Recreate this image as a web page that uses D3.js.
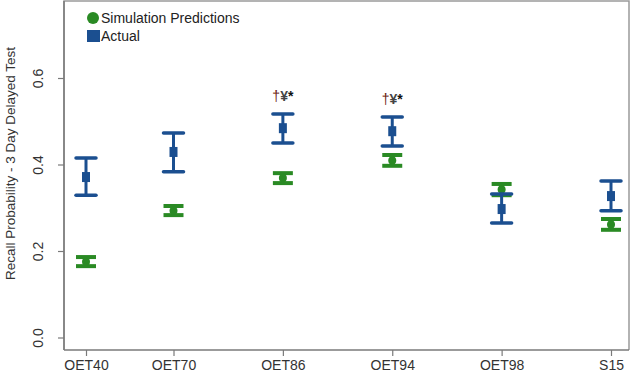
<!DOCTYPE html>
<html>
<head>
<meta charset="utf-8">
<title>recall probability</title>
<style>
  body{margin:0;background:#fff;}
  text{font-family:"Liberation Sans",Arial,sans-serif;}
</style>
</head>
<body>
<div id="container"></div>
<script src="https://cdn.jsdelivr.net/npm/d3@7"></script>
<script>
var categories = ["OET40","OET70","OET86","OET94","OET98","S15"];
var catX = [0, 0.8, 1.8, 2.8, 3.8, 4.8];

var simMean  = [0.175, 0.293, 0.369, 0.409, 0.342, 0.261];
var simLow   = [0.165, 0.283, 0.357, 0.397, 0.329, 0.249];
var simHigh  = [0.186, 0.304, 0.380, 0.422, 0.355, 0.274];

var actMean  = [0.371, 0.429, 0.484, 0.477, 0.297, 0.327];
var actLow   = [0.329, 0.383, 0.450, 0.443, 0.265, 0.293];
var actHigh  = [0.415, 0.473, 0.517, 0.510, 0.332, 0.362];

var marks = ["", "", "†¥*", "†¥*", "", ""];
var yTicks = [0, 0.2, 0.4, 0.6];

var blue = "#1b4f90", green = "#2a8a24", axisCol = "#7a7a7a";

var W = 632, H = 373;
var svg = d3.select("#container").append("svg").attr("width", W).attr("height", H);

var x = d3.scaleLinear().domain([0, 4.8]).range([86, 611]);
var y = d3.scaleLinear().domain([0, 0.6]).range([337.5, 78]);

// frame
var pL = 64, pR = 629, pT = 1, pB = 350;
svg.append("path")
  .attr("d", "M"+pL+","+pB+"V"+pT+"H"+pR+"V"+pB)
  .attr("fill","none").attr("stroke","#9a9a9a").attr("stroke-width",1.5);

// axes
var yAxis = d3.axisLeft(y).tickValues(yTicks).tickFormat(d3.format(".1f")).tickSize(6);
var gy = svg.append("g").attr("transform","translate("+pL+",0)").call(yAxis);
gy.select(".domain").attr("d","M0,"+pT+"V"+pB).attr("stroke",axisCol).attr("stroke-width",1.5);
gy.selectAll(".tick line").attr("stroke",axisCol).attr("stroke-width",1.2);
gy.selectAll(".tick text")
  .attr("font-size",14).attr("fill","#333")
  .attr("text-anchor","middle")
  .attr("transform","rotate(-90)")
  .attr("x", 0)
  .attr("y", -26)
  .attr("dy","0.35em");

var xAxis = d3.axisBottom(x).tickValues(catX).tickFormat(function(d,i){ return categories[i]; }).tickSize(6).tickPadding(4);
var gx = svg.append("g").attr("transform","translate(0,"+pB+")").call(xAxis);
gx.select(".domain").attr("d","M"+pL+",0H"+pR).attr("stroke",axisCol).attr("stroke-width",1.5);
gx.selectAll(".tick line").attr("stroke",axisCol).attr("stroke-width",1.2);
gx.selectAll(".tick text").attr("font-size",14).attr("fill","#333");

svg.append("text")
  .attr("transform","translate(10,"+((pT+pB)/2-12)+") rotate(-90)")
  .attr("text-anchor","middle")
  .attr("dy","0.35em")
  .attr("font-size",13.5).attr("fill","#333")
  .text("Recall Probability - 3 Day Delayed Test");

var idx = d3.range(categories.length);

// simulation (green)
var gs = svg.append("g");
gs.selectAll(".sv").data(idx).join("line")
  .attr("x1", i=>x(catX[i])).attr("x2", i=>x(catX[i]))
  .attr("y1", i=>y(simLow[i])).attr("y2", i=>y(simHigh[i]))
  .attr("stroke", green).attr("stroke-width", 5);
gs.selectAll(".sc").data(idx.flatMap(i=>[[i,simLow[i]],[i,simHigh[i]]])).join("line")
  .attr("x1", d=>x(catX[d[0]])-10).attr("x2", d=>x(catX[d[0]])+10)
  .attr("y1", d=>y(d[1])).attr("y2", d=>y(d[1]))
  .attr("stroke", green).attr("stroke-width", 4);
gs.selectAll("circle").data(idx).join("circle")
  .attr("cx", i=>x(catX[i])).attr("cy", i=>y(simMean[i])).attr("r", 4)
  .attr("fill", green);

// actual (blue)
var ga = svg.append("g");
ga.selectAll(".av").data(idx).join("line")
  .attr("x1", i=>x(catX[i])).attr("x2", i=>x(catX[i]))
  .attr("y1", i=>y(actLow[i])).attr("y2", i=>y(actHigh[i]))
  .attr("stroke", blue).attr("stroke-width", 3);
ga.selectAll(".ac").data(idx.flatMap(i=>[[i,actLow[i]],[i,actHigh[i]]])).join("line")
  .attr("x1", d=>x(catX[d[0]])-10).attr("x2", d=>x(catX[d[0]])+10)
  .attr("y1", d=>y(d[1])).attr("y2", d=>y(d[1]))
  .attr("stroke", blue).attr("stroke-width", 3.5).attr("stroke-linecap","round");
ga.selectAll("rect").data(idx).join("rect")
  .attr("x", i=>x(catX[i])-4).attr("y", i=>y(actMean[i])-5)
  .attr("width", 8).attr("height", 10)
  .attr("fill", blue);

// significance marks
var gm = svg.append("g");
idx.filter(i=>marks[i]).forEach(function(i){
  var t = gm.append("text")
    .attr("x", x(catX[i])).attr("y", y(actHigh[i]) - 13)
    .attr("text-anchor","middle").attr("font-size",14).attr("font-weight","bold");
  t.append("tspan").attr("fill","#6b1a10").attr("font-weight","normal").text(marks[i][0]);
  t.append("tspan").attr("fill","#444").text(marks[i][1]);
  t.append("tspan").attr("fill","#111").text(marks[i][2]);
});

// legend
var lg = svg.append("g");
lg.append("circle").attr("cx",93).attr("cy",18).attr("r",6).attr("fill",green);
lg.append("rect").attr("x",87).attr("y",30).attr("width",13).attr("height",12).attr("fill",blue);
lg.append("text").attr("x",101).attr("y",18).attr("dy","0.35em").attr("font-size",14).attr("fill","#222").text("Simulation Predictions");
lg.append("text").attr("x",101).attr("y",36).attr("dy","0.35em").attr("font-size",14).attr("fill","#222").text("Actual");
</script>
</body>
</html>
